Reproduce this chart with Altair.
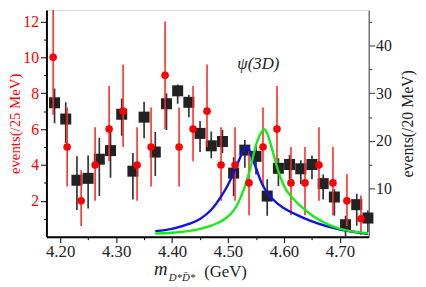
import altair as alt
import pandas as pd

# red circles: events / 25 MeV (left axis)
red_x = [4.1875, 4.2125, 4.2375, 4.2625, 4.2875, 4.3125, 4.3375, 4.3625, 4.3875, 4.4125,
         4.4375, 4.4625, 4.4875, 4.5125, 4.5375, 4.5625, 4.5875, 4.6125, 4.6375, 4.6625,
         4.6875, 4.7125, 4.7375]
red_y = [10, 5, 2, 4, 6, 7, 4, 5, 9, 5, 6, 7, 4, 4, 3, 5, 6, 3, 3, 4, 3, 2, 1]
red_lo = [6.8, 2.8, 0.6, 2.0, 4.2, 5.0, 2.0, 2.8, 6.0, 2.8, 4.2, 5.0, 2.0, 2.0, 1.2, 2.8,
          4.2, 1.2, 1.2, 2.0, 1.2, 0.6, 0.1]
red_hi = [13.3, 7.2, 3.7, 6.1, 8.4, 9.6, 6.1, 7.2, 12.0, 7.2, 8.4, 9.6, 6.1, 6.1, 5.0, 7.2,
          8.4, 5.0, 5.0, 6.1, 5.0, 3.5, 2.3]

# black squares: events / 20 MeV (right axis)
blk_x = [4.19, 4.21, 4.23, 4.25, 4.27, 4.29, 4.31, 4.33, 4.35, 4.37, 4.39, 4.41, 4.43, 4.45,
         4.47, 4.49, 4.51, 4.53, 4.55, 4.57, 4.59, 4.61, 4.63, 4.65, 4.67, 4.69, 4.71, 4.73, 4.75]
blk_y = [28.0, 24.6, 11.8, 12.2, 16.2, 18.0, 25.6, 13.7, 25.0, 17.7, 27.8, 30.5, 28.1, 21.6,
         19.0, 19.9, 13.3, 18.1, 16.8, 8.5, 14.3, 15.1, 14.2, 15.1, 11.1, 8.3, 2.5, 6.7, 3.9]
blk_lo = [23.7, 19.6, 5.6, 5.9, 8.5, 12.3, 21.1, 7.8, 20.6, 12.7, 22.3, 27.8, 25.0, 17.7,
          16.4, 17.5, 8.5, 14.4, 13.0, 4.4, 10.6, 12.0, 11.0, 12.0, 7.8, 4.4, 0.0, 2.3, 1.0]
blk_hi = [31.0, 28.1, 16.8, 17.0, 20.7, 22.5, 28.9, 17.5, 28.2, 21.9, 30.0, 31.8, 29.7, 24.2,
          22.0, 22.3, 16.6, 20.2, 19.2, 12.0, 16.4, 17.1, 16.0, 17.0, 13.0, 9.9, 4.4, 9.0, 5.5]

# line shapes (left-axis units)
blue_x = [4.37, 4.40, 4.43, 4.45, 4.47, 4.49, 4.50, 4.51, 4.52, 4.53, 4.535, 4.54, 4.55, 4.56,
          4.57, 4.58, 4.60, 4.62, 4.65, 4.70, 4.75]
blue_y = [0.31, 0.44, 0.71, 0.99, 1.5, 2.36, 2.9, 3.55, 4.29, 4.93, 5.0, 4.65, 3.83, 3.0,
          2.46, 2.09, 1.58, 1.26, 0.85, 0.4, 0.16]
green_x = [4.37, 4.40, 4.45, 4.47, 4.49, 4.51, 4.52, 4.53, 4.54, 4.55, 4.56, 4.565, 4.57,
           4.58, 4.59, 4.60, 4.62, 4.65, 4.70, 4.75]
green_y = [0.18, 0.22, 0.44, 0.62, 0.9, 1.45, 2.0, 2.8, 3.83, 5.1, 5.84, 6.0, 5.75, 4.74,
           3.64, 2.82, 2.0, 1.2, 0.44, 0.2]

x_ticks = [4.20, 4.25, 4.30, 4.35, 4.40, 4.45, 4.50, 4.55, 4.60, 4.65, 4.70]
left_ticks = [1, 2, 3, 4, 5, 6, 7, 8, 9, 10, 11, 12]
right_ticks = [5, 10, 15, 20, 25, 30, 35, 40, 45]

red_df = pd.DataFrame({"x": red_x, "y": red_y, "lo": red_lo, "hi": red_hi})
blk_df = pd.DataFrame({"x": blk_x, "y": blk_y, "lo": blk_lo, "hi": blk_hi})
blue_df = pd.DataFrame({"x": blue_x, "y": blue_y})
green_df = pd.DataFrame({"x": green_x, "y": green_y})
one = pd.DataFrame({"k": [0]})

FONT = "Liberation Serif"

xscale = alt.Scale(domain=[4.1755, 4.7514], nice=False, zero=False)
lscale = alt.Scale(domain=[0, 12.64], nice=False)
rscale = alt.Scale(domain=[0, 47.4], nice=False)

xaxis = alt.Axis(values=x_ticks, format=".2f",
                 labelExpr="round(datum.value*100) % 10 == 0 ? datum.label : ''",
                 tickSize={"condition": {"test": "round(datum.value*100) % 10 == 0", "value": 6}, "value": 3},
                 labelFont=FONT, labelFontSize=17, labelColor="#222", labelPadding=1,
                 domainColor="black", domainWidth=2, tickColor="black", tickWidth=1,
                 grid=False, title=None)
laxis = alt.Axis(orient="left", values=left_ticks,
                 labelExpr="datum.value % 2 == 0 ? datum.label : ''",
                 tickSize={"condition": {"test": "datum.value % 2 == 0", "value": 6}, "value": 3},
                 labelFont=FONT, labelFontSize=16, labelColor="#ff0000", labelPadding=2,
                 domainColor="black", domainWidth=2, tickColor="black", tickWidth=1,
                 grid=False, title="events(/25 MeV)", titleColor="#ff0000", titleFont=FONT,
                 titleFontSize=15, titleFontWeight="normal", titlePadding=0)
raxis = alt.Axis(orient="right", values=right_ticks,
                 labelExpr="datum.value % 10 == 0 ? datum.label : ''",
                 tickSize={"condition": {"test": "datum.value % 10 == 0", "value": 6}, "value": 3},
                 labelFont=FONT, labelFontSize=16, labelColor="#222", labelPadding=1,
                 domainColor="#555", domainWidth=1.2, tickColor="#333", tickWidth=1,
                 grid=False, title="events(/20 MeV)", titleColor="#222", titleFont=FONT,
                 titleFontSize=16, titleFontWeight="normal", titlePadding=8,
                 titleAngle=-90, titleBaseline="top")

X = alt.X("x:Q", scale=xscale, axis=xaxis)

blk_bars = alt.Chart(blk_df).mark_rule(color="#333333", strokeWidth=1.7, clip=True).encode(
    x=X, y=alt.Y("lo:Q", scale=rscale, axis=raxis), y2="hi:Q")
blk_pts = alt.Chart(blk_df).mark_point(shape="square", filled=True, color="#222222",
                                       opacity=1, size=125).encode(
    x=X, y=alt.Y("y:Q", scale=rscale, axis=raxis))
right = alt.layer(blk_bars, blk_pts)

red_bars = alt.Chart(red_df).mark_rule(color="#ff2a2a", strokeWidth=1.6, clip=True).encode(
    x=X, y=alt.Y("lo:Q", scale=lscale, axis=laxis), y2="hi:Q")
red_pts = alt.Chart(red_df).mark_point(shape="circle", filled=True, color="#ff0000",
                                       opacity=1, size=60).encode(
    x=X, y=alt.Y("y:Q", scale=lscale, axis=laxis))
blue = alt.Chart(blue_df).mark_line(color="#1010ee", strokeWidth=2.4, interpolate="monotone").encode(
    x=X, y=alt.Y("y:Q", scale=lscale, axis=laxis))
green = alt.Chart(green_df).mark_line(color="#11ee11", strokeWidth=2.4, interpolate="monotone").encode(
    x=X, y=alt.Y("y:Q", scale=lscale, axis=laxis))

psi = alt.Chart(one).mark_text(text="ψ(3D)", font=FONT, fontSize=17, fontStyle="italic",
                               color="#222", align="center", baseline="middle").encode(
    x=alt.value(215), y=alt.value(55))
m_txt = alt.Chart(one).mark_text(text="m", font=FONT, fontSize=19, fontStyle="italic",
                                 color="#222", align="center", baseline="alphabetic").encode(
    x=alt.value(116), y=alt.value(269))
sub_txt = alt.Chart(one).mark_text(text="D*D̄*", font=FONT, fontSize=11, fontStyle="italic",
                                   color="#222", align="left", baseline="alphabetic").encode(
    x=alt.value(124), y=alt.value(275))
gev_txt = alt.Chart(one).mark_text(text="(GeV)", font=FONT, fontSize=17,
                                   color="#222", align="left", baseline="alphabetic").encode(
    x=alt.value(160), y=alt.value(271))

left = alt.layer(red_bars, blue, green, red_pts, psi, m_txt, sub_txt, gev_txt)

chart = alt.layer(right, left).resolve_scale(y="independent").properties(
    width=327, height=230,
    autosize=alt.AutoSizeParams(type="none"),
    padding={"left": 39, "top": 0, "right": 50, "bottom": 48},
).configure_view(stroke="#888888", strokeWidth=1).configure(background="white")

chart.save("out.html", embed_options={"renderer": "svg", "actions": False})
